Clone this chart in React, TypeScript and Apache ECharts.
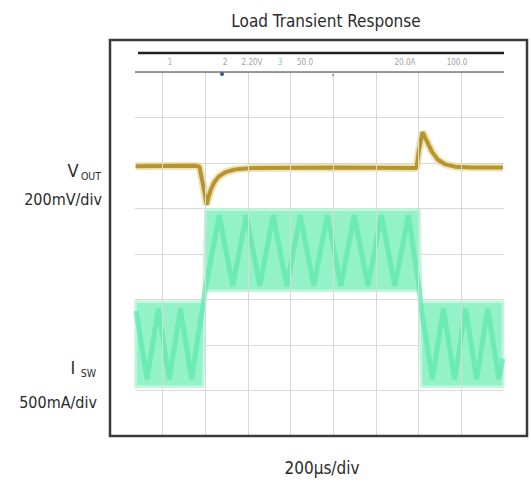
import React, { useEffect, useRef } from "react";
import * as echarts from "echarts";

// time axis in µs (200 µs/div), vertical axis in screen divisions
const gridTimes = [0, 200, 400, 600, 800, 1000, 1200, 1400];

// V_OUT trace (time µs, divisions)
const voutTrace: [number, number][] = [
  [-127, 5.93], [150, 5.94], [172, 5.92], [190, 5.5], [206, 5.08], [214, 5.24],
  [226, 5.42], [242, 5.58], [262, 5.7], [295, 5.8], [340, 5.86], [420, 5.89],
  [800, 5.9], [1190, 5.89], [1200, 6.25], [1218, 6.68], [1236, 6.5], [1262, 6.25],
  [1290, 6.07], [1325, 5.97], [1370, 5.92], [1450, 5.9], [1595, 5.9],
];

// I_SW ripple envelope (time µs, divisions)
const iswTimes = [-127, 190, 200, 1204, 1212, 1595];
const iswTop = [2.95, 2.95, 4.97, 4.97, 2.95, 2.95];
const iswBottom = [1.08, 1.08, 3.19, 3.19, 1.08, 1.08];

// visible ripple pattern inside the I_SW band
const iswRipple: [number, number][] = [
  [-125, 2.75], [-73, 1.25], [-21, 2.8], [31, 1.25], [83, 2.8], [135, 1.25], [186, 2.8],
  [202, 3.3], [265, 4.85], [328, 3.3], [392, 4.85], [455, 3.3], [518, 4.85], [582, 3.3],
  [645, 4.85], [708, 3.3], [772, 4.85], [835, 3.3], [898, 4.85], [962, 3.3], [1025, 4.85],
  [1088, 3.3], [1152, 4.85], [1200, 3.3],
  [1212, 2.8], [1264, 1.25], [1316, 2.8], [1368, 1.25], [1420, 2.8], [1472, 1.25],
  [1524, 2.8], [1576, 1.25], [1595, 1.7],
];

const headerTexts = [
  { t: "1", x: 170, c: "#e39a9a" },
  { t: "2", x: 225, c: "#a0a0a0" },
  { t: "2.20V", x: 252, c: "#a0a0a0" },
  { t: "3", x: 280, c: "#7fd3a6" },
  { t: "50.0", x: 305, c: "#a0a0a0" },
  { t: "20.0A", x: 405, c: "#a0a0a0" },
  { t: "100.0", x: 457, c: "#a0a0a0" },
];

const FONT = "'DejaVu Sans Condensed', 'Liberation Sans Narrow', 'Roboto Condensed', 'DejaVu Sans', sans-serif";

export default function App() {
  const ref = useRef<HTMLDivElement>(null);
  useEffect(() => {
    if (!ref.current) return;
    const chart = echarts.init(ref.current, undefined, { renderer: "svg" });
    const txt = (text: string, x: number, y: number, size: number, align = "center", color = "#2b2b2b") => ({
      type: "text",
      x,
      y,
      z: 10,
      style: { text, fontSize: size, fontFamily: FONT, fill: color, align, verticalAlign: "middle" },
    });
    chart.setOption({
      animation: false,
      backgroundColor: "#ffffff",
      grid: { left: 135, top: 72, width: 369, height: 364, containLabel: false },
      xAxis: {
        type: "value",
        min: -130,
        max: 1600,
        axisLine: { show: false },
        axisTick: { show: false },
        axisLabel: { show: false },
        splitLine: { show: false },
      },
      yAxis: {
        type: "value",
        min: 0,
        max: 8,
        interval: 1,
        axisLine: { show: false },
        axisTick: { show: false },
        axisLabel: { show: false },
        splitLine: { show: true, lineStyle: { color: "#d9d9d9", width: 1 } },
      },
      series: [
        {
          type: "custom",
          name: "iswBand",
          silent: true,
          data: [[iswTimes[0], iswTop[0], iswBottom[0]]],
          renderItem: (params: any, api: any) => {
            const pts: number[][] = [];
            iswTimes.forEach((t, i) => pts.push(api.coord([t, iswTop[i]])));
            for (let i = iswTimes.length - 1; i >= 0; i--) pts.push(api.coord([iswTimes[i], iswBottom[i]]));
            return {
              type: "polygon",
              shape: { points: pts },
              style: { fill: "#93f2c8", stroke: "#c2f7de", lineWidth: 2.5 },
            };
          },
          markLine: {
            silent: true,
            symbol: "none",
            label: { show: false },
            lineStyle: { color: "#d9d9d9", width: 1, type: "solid" },
            data: gridTimes.map((t) => ({ xAxis: t })),
          },
          z: 1,
        },
        {
          type: "line",
          name: "iswRipple",
          symbol: "none",
          data: iswRipple,
          lineStyle: { width: 5, color: "#5ce8ab", opacity: 0.7 },
          silent: true,
          z: 2,
        },
        {
          type: "line",
          name: "voutGlow",
          symbol: "none",
          data: voutTrace,
          lineStyle: { width: 8, color: "rgba(228,205,120,0.55)" },
          silent: true,
          z: 3,
        },
        {
          type: "line",
          name: "vout",
          symbol: "none",
          data: voutTrace,
          lineStyle: { width: 4, color: "#b4952f" },
          silent: true,
          z: 4,
        },
      ],
      graphic: [
        {
          type: "rect",
          shape: { x: 110, y: 40, width: 417, height: 396 },
          style: { fill: "none", stroke: "#3a3a3a", lineWidth: 2.5 },
          z: 20,
        },
        {
          type: "line",
          shape: { x1: 138, y1: 53, x2: 504, y2: 53 },
          style: { stroke: "#1e1e1e", lineWidth: 2.5 },
          z: 10,
        },
        {
          type: "line",
          shape: { x1: 135, y1: 72, x2: 504, y2: 72 },
          style: { stroke: "#7a7a7a", lineWidth: 1.5 },
          z: 10,
        },
        { type: "circle", shape: { cx: 222, cy: 74, r: 2 }, style: { fill: "#3a5a9a" }, z: 11 },
        { type: "circle", shape: { cx: 333, cy: 75, r: 1.2 }, style: { fill: "#a89ad0" }, z: 11 },
        ...headerTexts.map((h) => txt(h.t, h.x, 62, 8, "center", h.c)),
        txt("Load Transient Response", 326, 21, 17),
        txt("V", 73, 170, 18),
        txt("OUT", 101, 176, 10.5, "right"),
        txt("200mV/div", 102, 199, 16, "right"),
        txt("I", 73, 367, 18),
        txt("SW", 96, 373, 10.5, "right"),
        txt("500mA/div", 97, 402, 16, "right"),
        txt("200\u00b5s/div", 322, 468, 17),
      ],
    });
    return () => chart.dispose();
  }, []);
  return (
    <div
      ref={ref}
      style={{ position: "fixed", left: 0, top: 0, width: 531, height: 483, background: "#fff" }}
    />
  );
}
